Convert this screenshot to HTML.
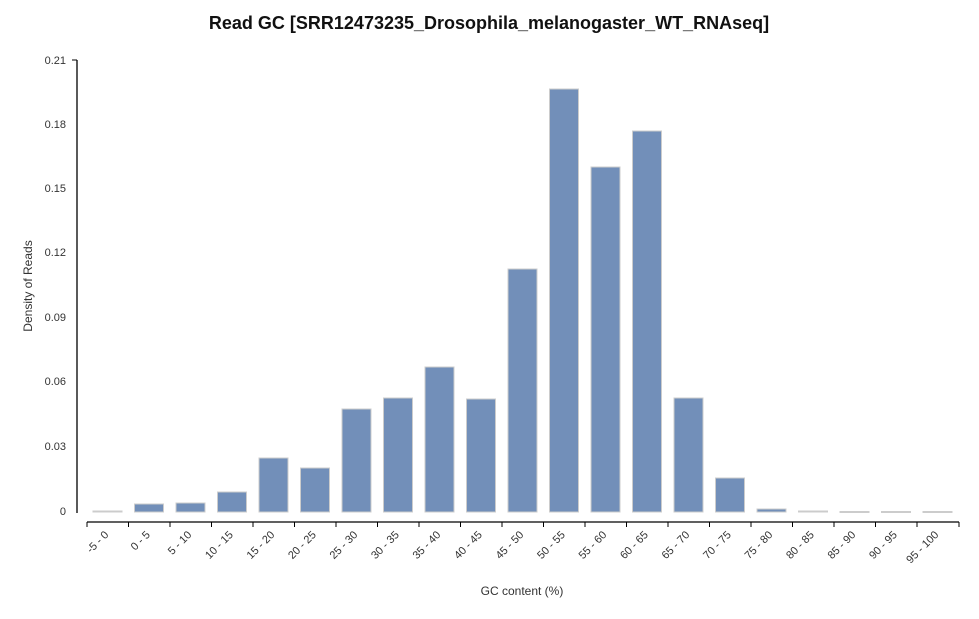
<!DOCTYPE html>
<html><head><meta charset="utf-8"><style>
body{margin:0;background:#fff;}
svg text{font-family:"Liberation Sans",sans-serif;}
</style></head><body>
<svg width="979" height="614" xmlns="http://www.w3.org/2000/svg">
<text x="489" y="29" text-anchor="middle" font-size="18" font-weight="bold" fill="#111">Read GC [SRR12473235_Drosophila_melanogaster_WT_RNAseq]</text>
<line x1="77" y1="60" x2="77" y2="513" stroke="#000" stroke-width="1.3"/>
<g font-size="11" fill="#333" text-anchor="end">
<line x1="72" y1="60" x2="77" y2="60" stroke="#000"/>
<text x="66" y="64">0.21</text><text x="66" y="128">0.18</text><text x="66" y="192">0.15</text><text x="66" y="256">0.12</text><text x="66" y="321">0.09</text><text x="66" y="385">0.06</text><text x="66" y="450">0.03</text><text x="66" y="515">0</text>
</g>
<text transform="translate(32,286) rotate(-90)" text-anchor="middle" font-size="12" fill="#333">Density of Reads</text>
<text x="522" y="595" text-anchor="middle" font-size="12" fill="#333">GC content (%)</text>
<line x1="87" y1="522" x2="959" y2="522" stroke="#000" stroke-width="1.3"/>
<g id="bars" fill="#728fb9" stroke="#ccc" stroke-width="1"></g>
<g id="ticks"></g>
<script>
var tops=[511,504,503,492,458,468,409,398,367,399,269,89,167,131,398,478,509,511,511.5,511.5,511.5];
var labels=["-5 - 0","0 - 5","5 - 10","10 - 15","15 - 20","20 - 25","25 - 30","30 - 35","35 - 40","40 - 45","45 - 50","50 - 55","55 - 60","60 - 65","65 - 70","70 - 75","75 - 80","80 - 85","85 - 90","90 - 95","95 - 100"];
var ns="http://www.w3.org/2000/svg",b=document.getElementById("bars"),t=document.getElementById("ticks");
var step=41.5;
for(var i=0;i<21;i++){
 var x0=87+i*step;
 var r=document.createElementNS(ns,"rect");
 r.setAttribute("x",x0+6);r.setAttribute("y",tops[i]);r.setAttribute("width",29);r.setAttribute("height",Math.max(512-tops[i],1));
 if(512-tops[i]<2){r.setAttribute("fill","#ccc");}
 b.appendChild(r);
 var l=document.createElementNS(ns,"line");
 l.setAttribute("x1",x0);l.setAttribute("x2",x0);l.setAttribute("y1",522);l.setAttribute("y2",527);l.setAttribute("stroke","#000");
 t.appendChild(l);
 var tx=document.createElementNS(ns,"text");
 var cx=x0+step/2-4,cy=530;
 tx.setAttribute("transform","translate("+cx+","+cy+") rotate(-45)");
 tx.setAttribute("text-anchor","end");tx.setAttribute("font-size","11");tx.setAttribute("fill","#333");tx.setAttribute("dy","0.7em");
 tx.textContent=labels[i];t.appendChild(tx);
}
var l=document.createElementNS(ns,"line");l.setAttribute("x1",959);l.setAttribute("x2",959);l.setAttribute("y1",522);l.setAttribute("y2",527);l.setAttribute("stroke","#000");t.appendChild(l);
</script>
</svg>
</body></html>
